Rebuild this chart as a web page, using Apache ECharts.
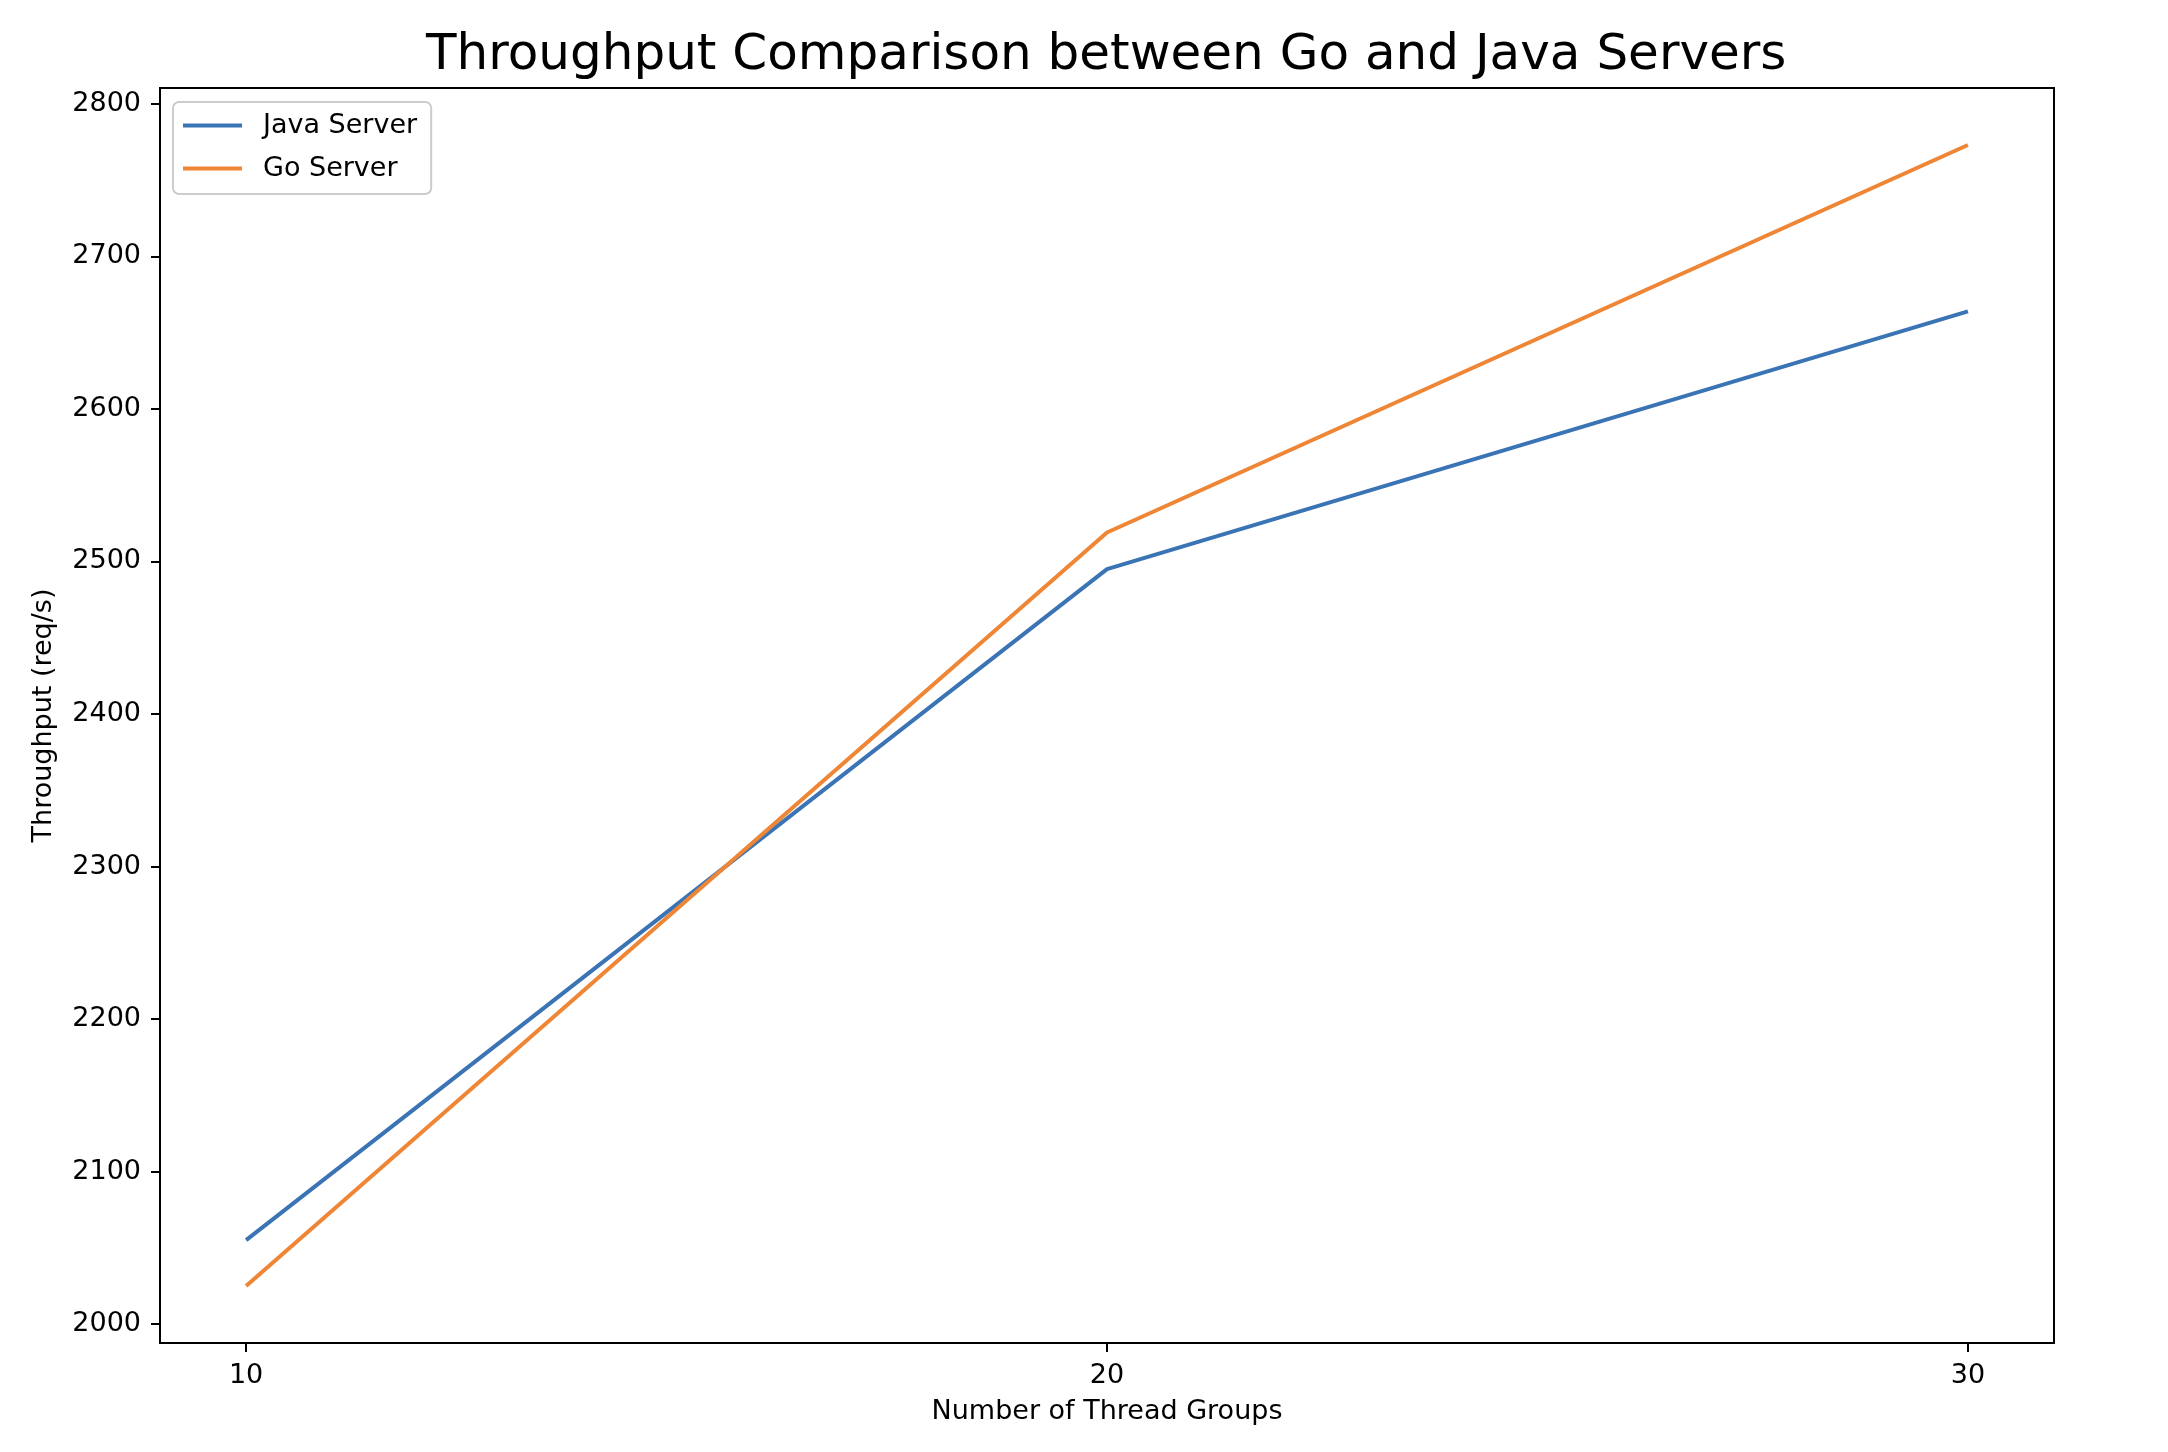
<!DOCTYPE html>
<html>
<head>
<meta charset="utf-8">
<script src="https://cdn.jsdelivr.net/npm/echarts@6/dist/echarts.min.js"></script>
<style>
  html, body { margin: 0; padding: 0; background: #fff; }
  #main { width: 2168px; height: 1452px; }
</style>
</head>
<body>
<div id="main"></div>
<script>
// 数据
var threadGroups = [10, 20, 30];
var javaThroughput = [2055, 2495, 2664];
var goThroughput = [2025, 2519, 2773];
var xTicks = [10, 20, 30];
var yTicks = [2000, 2100, 2200, 2300, 2400, 2500, 2600, 2700, 2800];

// matplotlib 风格 5% 边距
var allY = javaThroughput.concat(goThroughput);
var yMin = Math.min.apply(null, allY);
var yMax = Math.max.apply(null, allY);
var yPad = (yMax - yMin) * 0.05;

var font = "DejaVu Sans";
var chart = echarts.init(document.getElementById("main"));

function pairs(xs, ys) {
  return xs.map(function (x, i) { return [x, ys[i]]; });
}

var option = {
  backgroundColor: "#fff",
  animation: false,
  title: {
    text: "Throughput Comparison between Go and Java Servers",
    left: 421,
    top: 26,
    textStyle: { fontFamily: font, fontSize: 50, fontWeight: "normal", color: "#000" },
  },
  legend: {
    orient: "vertical",
    left: 173,
    top: 102,
    padding: [10, 14, 12, 10],
    itemGap: 16,
    itemWidth: 59,
    itemHeight: 4,
    icon: "rect",
    borderColor: "#cccccc",
    borderWidth: 2,
    borderRadius: 6,
    textStyle: { fontFamily: font, fontSize: 27, color: "#000", padding: [0, 0, 0, 16], lineHeight: 27 },
    data: ["Java Server", "Go Server"],
  },
  grid: {
    left: 160,
    right: 114,
    top: 88,
    bottom: 109,
    show: true,
    borderColor: "#000",
    borderWidth: 2,
  },
  xAxis: {
    type: "value",
    min: 9,
    max: 31,
    name: "Number of Thread Groups",
    nameLocation: "middle",
    nameGap: 55,
    nameTextStyle: { fontFamily: font, fontSize: 27, color: "#000" },
    axisLine: { show: true, lineStyle: { color: "#000", width: 2 } },
    axisTick: { show: true, length: 9, lineStyle: { color: "#000", width: 2 }, customValues: xTicks },
    axisLabel: { fontFamily: font, fontSize: 27, color: "#000", margin: 19, customValues: xTicks, formatter: function (v) { return String(v); } },
    splitLine: { show: false },
  },
  yAxis: {
    type: "value",
    min: yMin - yPad,
    max: yMax + yPad,
    name: "Throughput (req/s)",
    nameLocation: "middle",
    nameGap: 103,
    nameTextStyle: { fontFamily: font, fontSize: 27, color: "#000" },
    axisLine: { show: true, lineStyle: { color: "#000", width: 2 } },
    axisTick: { show: true, length: 9, lineStyle: { color: "#000", width: 2 }, customValues: yTicks },
    axisLabel: { fontFamily: font, fontSize: 27, color: "#000", margin: 19, customValues: yTicks, formatter: function (v) { return String(v); } },
    splitLine: { show: false },
  },
  series: [
    {
      name: "Java Server",
      type: "line",
      symbol: "none",
      color: "#3a74b4",
      lineStyle: { width: 4, color: "#3a74b4" },
      data: pairs(threadGroups, javaThroughput),
    },
    {
      name: "Go Server",
      type: "line",
      symbol: "none",
      color: "#ef8636",
      lineStyle: { width: 4, color: "#ef8636" },
      data: pairs(threadGroups, goThroughput),
    },
  ],
};

chart.setOption(option);
</script>
</body>
</html>
